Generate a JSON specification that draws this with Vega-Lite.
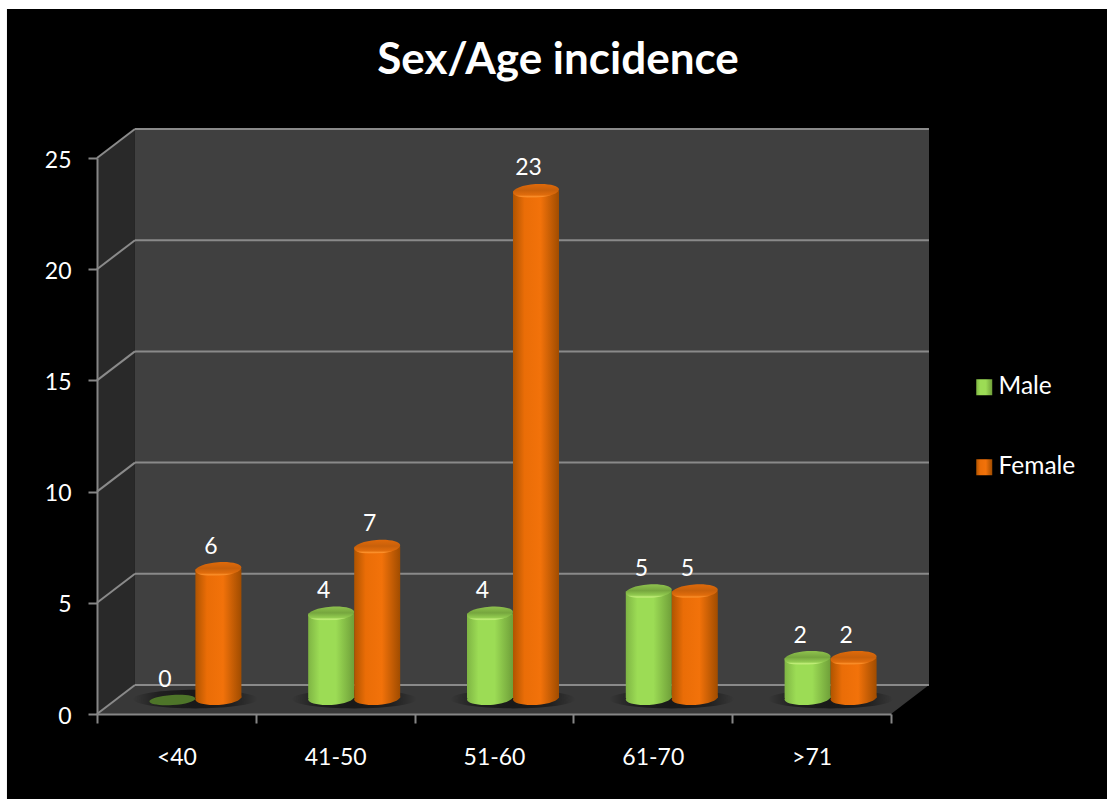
{
  "$schema": "https://vega.github.io/schema/vega-lite/v6.json",
  "autosize": "none",
  "width": 794,
  "height": 556,
  "padding": {"left": 97, "top": 158, "right": 216, "bottom": 85},
  "background": "white",
  "view": {"stroke": null},
  "config": {"font": "Lato", "text": {"font": "Lato"}},
  "title": {"text": "Sex/Age incidence", "font": "Lato", "fontSize": 44, "fontWeight": "bold", "color": "white", "anchor": "middle", "frame": "group", "dx": 64, "baseline": "alphabetic", "offset": -109},
  "params": [
    {"name": "maleBody", "value": {"gradient": "linear", "x1": 0, "y1": 0, "x2": 1, "y2": 0, "stops": [
      {"offset": 0, "color": "#7fb544"}, {"offset": 0.25, "color": "#9cdc55"}, {"offset": 0.6, "color": "#9cdc55"}, {"offset": 1, "color": "#6f9f39"}
    ]}},
    {"name": "femaleBody", "value": {"gradient": "linear", "x1": 0, "y1": 0, "x2": 1, "y2": 0, "stops": [
      {"offset": 0, "color": "#b05400"}, {"offset": 0.25, "color": "#ea6d07"}, {"offset": 0.6, "color": "#f2720a"}, {"offset": 1, "color": "#a04c00"}
    ]}},
    {"name": "maleCap", "value": {"gradient": "linear", "x1": 0, "y1": 0, "x2": 0, "y2": 1, "stops": [
      {"offset": 0, "color": "#8fc24e"}, {"offset": 0.45, "color": "#76a63e"}, {"offset": 0.78, "color": "#92cb50"}, {"offset": 0.9, "color": "#c3ef7a"}, {"offset": 1, "color": "#9cdc55"}
    ]}},
    {"name": "femaleCap", "value": {"gradient": "linear", "x1": 0, "y1": 0, "x2": 0, "y2": 1, "stops": [
      {"offset": 0, "color": "#e06a0a"}, {"offset": 0.45, "color": "#c8600a"}, {"offset": 0.78, "color": "#e06c0c"}, {"offset": 0.9, "color": "#fb8f2a"}, {"offset": 1, "color": "#ee6f08"}
    ]}}
  ],
  "datasets": {
    "incidence": [
      {"age": "<40", "sex": "Male", "count": 0},
      {"age": "<40", "sex": "Female", "count": 6},
      {"age": "41-50", "sex": "Male", "count": 4},
      {"age": "41-50", "sex": "Female", "count": 7},
      {"age": "51-60", "sex": "Male", "count": 4},
      {"age": "51-60", "sex": "Female", "count": 23},
      {"age": "61-70", "sex": "Male", "count": 5},
      {"age": "61-70", "sex": "Female", "count": 5},
      {"age": ">71", "sex": "Male", "count": 2},
      {"age": ">71", "sex": "Female", "count": 2}
    ],
    "levels": [{"v": 0}, {"v": 5}, {"v": 10}, {"v": 15}, {"v": 20}, {"v": 25}],
    "floor": [
      {"x": 0, "y": 0, "y2": 0},
      {"x": 0.239, "y": 1.304, "y2": 0},
      {"x": 5, "y": 1.304, "y2": 0},
      {"x": 5.239, "y": 1.304, "y2": 1.304}
    ],
    "side": [
      {"x": 0, "y": 25, "y2": 0},
      {"x": 0.239, "y": 26.304, "y2": 1.304}
    ],
    "one": [{}]
  },
  "layer": [
    {
      "layer": [
        {
          "data": {"name": "one"},
          "mark": {"type": "rect", "fill": "black"},
          "encoding": {
            "x": {"datum": -0.567, "type": "quantitative", "axis": null, "scale": {"domain": [0, 5], "nice": false, "zero": false}},
            "x2": {"datum": 6.4},
            "y": {"datum": -3.83, "type": "quantitative", "title": null, "scale": {"domain": [0, 25], "nice": false},
              "axis": {"title": null, "values": [0, 5, 10, 15, 20, 25], "zindex": 1, "labelColor": "white", "labelFont": "Lato", "labelFontSize": 23, "labelPadding": 17, "labelOffset": 2, "tickColor": "#868686", "tickWidth": 2, "tickSize": 9, "domainColor": "#868686", "domainWidth": 2, "grid": false}},
            "y2": {"datum": 31.7}
          }
        },
        {
          "data": {"name": "one"},
          "mark": {"type": "rect", "fill": "#404040", "xOffset": 38, "x2Offset": 38, "yOffset": -29, "y2Offset": -29},
          "encoding": {
            "x": {"datum": 0, "type": "quantitative", "axis": null},
            "x2": {"datum": 5},
            "y": {"datum": 0, "type": "quantitative", "title": null},
            "y2": {"datum": 25}
          }
        },
        {
          "data": {"name": "floor"},
          "mark": {"type": "area", "fill": "#383838", "interpolate": "linear"},
          "encoding": {
            "x": {"field": "x", "type": "quantitative", "axis": null},
            "y": {"field": "y", "type": "quantitative", "title": null},
            "y2": {"field": "y2"}
          }
        },
        {
          "data": {"name": "side"},
          "mark": {"type": "area", "fill": "#292929", "interpolate": "linear"},
          "encoding": {
            "x": {"field": "x", "type": "quantitative", "axis": null},
            "y": {"field": "y", "type": "quantitative", "title": null},
            "y2": {"field": "y2"}
          }
        },
        {
          "data": {"name": "levels"},
          "mark": {"type": "rule", "color": "#8a8a8a", "strokeWidth": 2, "yOffset": -29},
          "encoding": {
            "x": {"datum": 0.239, "type": "quantitative", "axis": null},
            "x2": {"datum": 5.239},
            "y": {"field": "v", "type": "quantitative", "title": null}
          }
        },
        {
          "data": {"name": "levels"},
          "mark": {"type": "rule", "color": "#8a8a8a", "strokeWidth": 2, "y2Offset": -29},
          "encoding": {
            "x": {"datum": 0, "type": "quantitative", "axis": null},
            "x2": {"datum": 0.239},
            "y": {"field": "v", "type": "quantitative", "title": null},
            "y2": {"field": "v"}
          }
        }
      ]
    },
    {
      "data": {"name": "incidence"},
      "layer": [
        {
          "transform": [{"filter": "datum.sex == 'Male'"}],
          "mark": {
            "type": "point", "filled": true, "opacity": 1, "size": 15625, "xOffset": 19, "yOffset": -15,
            "shape": "M-1,0A1,0.15 0 1 1 1,0A1,0.15 0 1 1 -1,0Z",
            "fill": {"gradient": "radial", "x1": 0.5, "y1": 0.5, "r1": 0, "x2": 0.5, "y2": 0.5, "r2": 0.5, "stops": [
              {"offset": 0, "color": "#181818"},
              {"offset": 0.6, "color": "#202020"},
              {"offset": 1, "color": "#383838"}
            ]}
          },
          "encoding": {
            "x": {"field": "age", "type": "nominal", "sort": null, "scale": {"paddingInner": 0, "paddingOuter": 0},
              "axis": {"title": null, "labelAngle": 0, "tickBand": "extent", "zindex": 1, "labelColor": "white", "labelFont": "Lato", "labelFontSize": 23, "labelPadding": 23, "tickColor": "#868686", "tickWidth": 2, "tickSize": 9, "domainColor": "#868686", "domainWidth": 2, "grid": false}},
            "y": {"datum": 0, "type": "quantitative", "title": null}
          }
        },
        {
          "transform": [{"filter": "datum.count > 0"}],
          "mark": {"type": "bar", "yOffset": -11.5, "y2Offset": -16},
          "encoding": {
            "x": {"field": "age", "type": "nominal", "sort": null},
            "xOffset": {"field": "sex", "sort": ["Male", "Female"], "scale": {"range": [19, 177.8], "paddingInner": 0, "paddingOuter": 0.726}},
            "y": {"field": "count", "type": "quantitative", "title": null},
            "y2": {"datum": 0},
            "color": {
              "field": "sex",
              "scale": {
                "domain": ["Male", "Female"],
                "range": [{"signal": "maleBody"}, {"signal": "femaleBody"}]
              },
              "legend": {
                "title": null, "orient": "none", "legendX": 875, "legendY": 217, "padding": 0,
                "symbolType": "square", "symbolSize": 256, "symbolStrokeWidth": 0,
                "labelColor": "white", "labelFont": "Lato", "labelFontSize": 24.5, "labelOffset": 2, "rowPadding": 55
              }
            }
          }
        },
        {
          "transform": [{"filter": "datum.count > 0"}],
          "mark": {"type": "point", "filled": true, "opacity": 1, "size": 2116, "yOffset": -16, "shape": "M-1,0.07A1,0.3 -4 1 1 1,-0.07A1,0.3 -4 1 1 -1,0.07Z"},
          "encoding": {
            "x": {"field": "age", "type": "nominal", "sort": null},
            "xOffset": {"field": "sex", "sort": ["Male", "Female"]},
            "y": {"datum": 0, "type": "quantitative", "title": null},
            "color": {"field": "sex"}
          }
        },
        {
          "transform": [{"filter": "datum.count > 0"}],
          "mark": {"type": "point", "filled": true, "opacity": 1, "size": 2116, "yOffset": -11.5, "shape": "M-1,0.07A1,0.3 -4 1 1 1,-0.07A1,0.3 -4 1 1 -1,0.07Z"},
          "encoding": {
            "x": {"field": "age", "type": "nominal", "sort": null},
            "xOffset": {"field": "sex", "sort": ["Male", "Female"]},
            "y": {"field": "count", "type": "quantitative", "title": null},
            "fill": {
              "field": "sex",
              "legend": null,
              "scale": {
                "domain": ["Male", "Female"],
                "range": [{"signal": "maleCap"}, {"signal": "femaleCap"}]
              }
            }
          }
        },
        {
          "transform": [{"filter": "datum.count == 0"}],
          "mark": {"type": "point", "filled": true, "opacity": 1, "size": 2116, "yOffset": -14, "fill": "#4e7529", "shape": "M-1,0.07A1,0.22 -4 1 1 1,-0.07A1,0.22 -4 1 1 -1,0.07Z"},
          "encoding": {
            "x": {"field": "age", "type": "nominal", "sort": null},
            "xOffset": {"field": "sex", "sort": ["Male", "Female"]},
            "y": {"field": "count", "type": "quantitative", "title": null}
          }
        },
        {
          "mark": {"type": "text", "color": "white", "font": "Lato", "fontSize": 23, "baseline": "middle", "dx": -7.5, "yOffset": -34},
          "encoding": {
            "x": {"field": "age", "type": "nominal", "sort": null},
            "xOffset": {"field": "sex", "sort": ["Male", "Female"]},
            "y": {"field": "count", "type": "quantitative", "title": null},
            "text": {"field": "count", "type": "quantitative"}
          }
        }
      ]
    }
  ],
  "resolve": {"scale": {"x": "independent"}}
}
